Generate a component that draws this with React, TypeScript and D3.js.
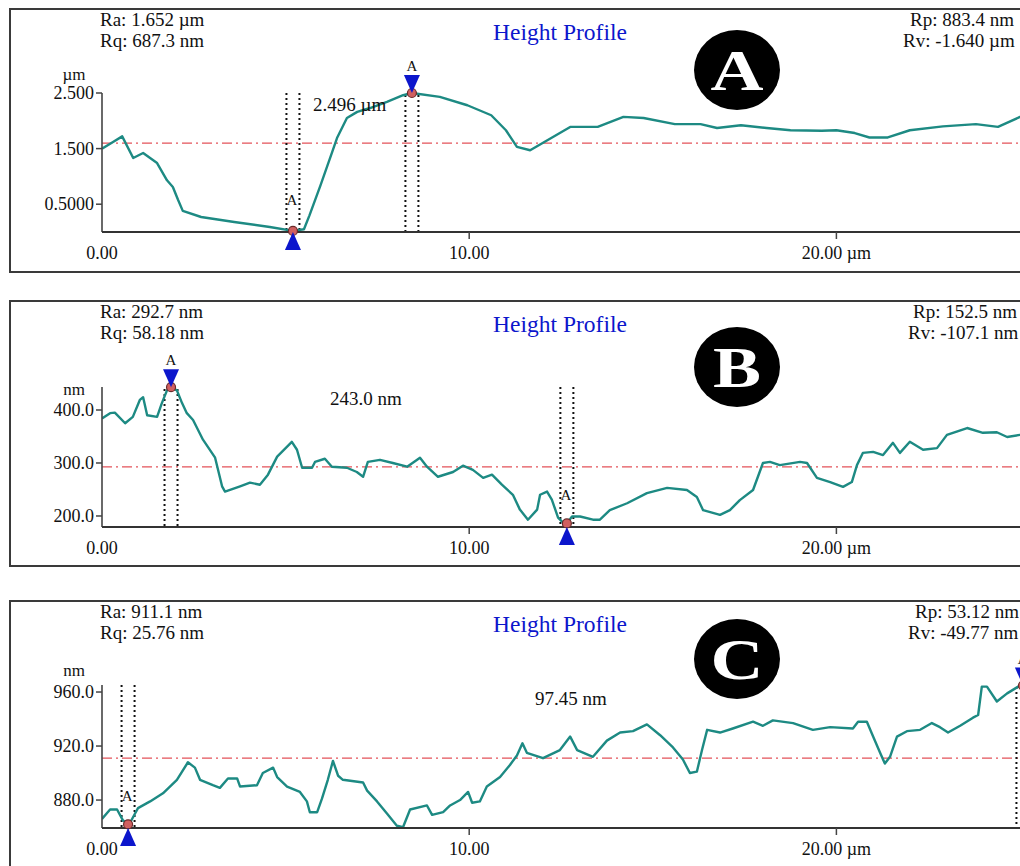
import React from "react";
import * as d3 from "d3";

// ---------- data ----------
const aX = [0, 0.3, 0.55, 0.85, 1.12, 1.5, 1.77, 1.93, 2.07, 2.2, 2.7, 3.6, 4.57, 5.2, 5.5, 5.65, 5.95, 6.27, 6.4, 6.67, 6.95, 7.3, 7.76, 8.2, 8.44, 9.2, 9.95, 10.6, 11.0, 11.3, 11.66, 12.0, 12.75, 13.5, 14.2, 14.75, 15.6, 16.3, 16.75, 17.4, 18.1, 18.75, 19.6, 20.0, 20.5, 20.9, 21.4, 22.0, 22.9, 23.8, 24.4, 25.0, 25.3];
const aY = [1.5, 1.62, 1.72, 1.33, 1.42, 1.24, 0.93, 0.81, 0.58, 0.38, 0.27, 0.18, 0.09, 0.02, 0.05, 0.3, 0.84, 1.44, 1.69, 2.05, 2.16, 2.23, 2.34, 2.46, 2.5, 2.43, 2.28, 2.1, 1.83, 1.53, 1.47, 1.6, 1.89, 1.89, 2.07, 2.05, 1.94, 1.94, 1.87, 1.92, 1.87, 1.83, 1.82, 1.83, 1.78, 1.7, 1.7, 1.83, 1.9, 1.94, 1.89, 2.07, 2.1];

const bX = [0, 0.22, 0.35, 0.63, 0.84, 1.03, 1.12, 1.23, 1.5, 1.63, 1.77, 1.88, 2.04, 2.18, 2.31, 2.48, 2.75, 3.08, 3.27, 3.35, 3.76, 4.03, 4.3, 4.52, 4.77, 5.17, 5.31, 5.45, 5.72, 5.8, 6.07, 6.26, 6.67, 6.94, 7.11, 7.24, 7.57, 7.92, 8.31, 8.66, 8.85, 9.15, 9.56, 9.83, 10.1, 10.38, 10.62, 10.89, 11.19, 11.38, 11.6, 11.85, 11.93, 12.12, 12.25, 12.42, 12.55, 12.66, 12.8, 13.02, 13.37, 13.56, 13.83, 14.3, 14.84, 15.39, 15.93, 16.2, 16.37, 16.83, 17.1, 17.37, 17.73, 18.0, 18.19, 18.46, 19.01, 19.2, 19.47, 19.83, 20.18, 20.42, 20.56, 20.72, 21.0, 21.27, 21.54, 21.73, 22.0, 22.36, 22.74, 23.01, 23.56, 23.99, 24.37, 24.65, 25.0, 25.3];
const bY = [384, 394, 395, 375, 387, 419, 424, 390, 387, 413, 437, 443, 437, 413, 394, 381, 344, 310, 256, 246, 256, 263, 259, 278, 312, 340, 325, 291, 291, 302, 308, 293, 291, 283, 274, 302, 306, 300, 293, 310, 293, 274, 283, 295, 287, 272, 278, 259, 240, 212, 193, 212, 240, 246, 231, 197, 188, 186, 199, 199, 193, 193, 211, 224, 243, 253, 249, 236, 211, 202, 211, 230, 249, 300, 302, 296, 302, 300, 272, 264, 255, 264, 296, 319, 321, 315, 338, 319, 340, 325, 328, 353, 366, 357, 358, 349, 353, 355];

const cX = [0, 0.22, 0.41, 0.57, 0.71, 0.76, 0.9, 0.98, 1.31, 1.66, 2.04, 2.34, 2.53, 2.67, 3.02, 3.21, 3.43, 3.68, 3.76, 4.22, 4.38, 4.66, 4.77, 5.04, 5.39, 5.58, 5.66, 5.86, 5.99, 6.15, 6.29, 6.43, 6.56, 7.11, 7.22, 7.49, 7.76, 8.03, 8.2, 8.39, 8.85, 8.99, 9.29, 9.48, 9.75, 9.97, 10.08, 10.29, 10.48, 10.84, 11.11, 11.3, 11.45, 11.57, 12.01, 12.47, 12.75, 12.94, 13.37, 13.75, 14.11, 14.46, 14.84, 15.2, 15.55, 15.82, 16.01, 16.2, 16.34, 16.48, 16.83, 17.18, 17.73, 18.0, 18.27, 18.82, 19.36, 19.83, 20.45, 20.59, 20.83, 21.0, 21.19, 21.32, 21.46, 21.65, 21.92, 22.28, 22.6, 22.82, 23.04, 23.37, 23.72, 23.86, 23.96, 24.1, 24.37, 24.65, 24.95, 25.3];
const cY = [866, 873, 873, 865, 862, 863, 870, 874, 879, 885, 895, 908, 904, 895, 891, 889, 896, 896, 890, 891, 900, 904, 897, 890, 886, 879, 871, 871, 881, 895, 909, 898, 895, 893, 887, 879, 870, 861, 860, 873, 876, 869, 871, 876, 880, 886, 878, 879, 890, 897, 906, 913, 922, 915, 911, 917, 927, 917, 912, 924, 930, 931, 936, 928, 919, 910, 900, 901, 917, 932, 930, 933, 938, 935, 939, 937, 932, 934, 933, 938, 938, 927, 915, 907, 912, 927, 931, 932, 937, 934, 930, 935, 941, 943, 964, 964, 953, 959, 964, 966];

const xTickValues = [0, 10, 20];
const xTickLabels = ["0.00", "10.00", "20.00 µm"];

const aYTicks = [0.5, 1.5, 2.5];
const aYTickLabels = ["0.5000", "1.500", "2.500"];
const bYTicks = [200, 300, 400];
const bYTickLabels = ["200.0", "300.0", "400.0"];
const cYTicks = [880, 920, 960];
const cYTickLabels = ["880.0", "920.0", "960.0"];

const aStats = ["Ra: 1.652 µm", "Rq: 687.3 nm", "Rp: 883.4 nm", "Rv: -1.640 µm"];
const bStats = ["Ra: 292.7 nm", "Rq: 58.18 nm", "Rp: 152.5 nm", "Rv: -107.1 nm"];
const cStats = ["Ra: 911.1 nm", "Rq: 25.76 nm", "Rp: 53.12 nm", "Rv: -49.77 nm"];

const aMean = 1.6;
const bMean = 292.7;
const cMean = 911.1;

// cursors: [lower (valley) x, upper (peak) x]
const aCursors = [5.2, 8.44];
const bCursors = [12.66, 1.88];
const cCursors = [0.71, 25.08];

const aMeasure = "2.496 µm";
const bMeasure = "243.0 nm";
const cMeasure = "97.45 nm";

// ---------- style ----------
const FONT = "'Liberation Serif', 'Times New Roman', serif";
const TEAL = "#1d8a83";
const BLUE = "#0c16cc";

type PanelProps = {
  letter: string;
  xs: number[];
  ys: number[];
  yTicks: number[];
  yTickLabels: string[];
  unit: string;
  stats: string[];
  mean: number;
  cursors: number[];
  measure: string;
  top: number;
  bottom: number;
  axisTop: number;
  axisBottom: number;
  yDomain: [number, number];
  unitY: number;
  measureX: number;
  measureY: number;
  badgeY: number;
  lowLabelY: number;
  rightX: [number, number];
};

function Panel(p: PanelProps) {
  const x = d3.scaleLinear().domain([0, 25]).range([102, 1020]);
  const y = d3.scaleLinear().domain(p.yDomain).range([p.axisBottom, p.axisTop]);
  const pts = p.xs.map((v, i) => [v, p.ys[i]] as [number, number]);
  const line = d3.line<[number, number]>().x((d) => x(d[0])).y((d) => y(d[1]));
  const interp = (xv: number) => {
    const i = d3.bisector((d: [number, number]) => d[0]).left(pts, xv);
    if (i <= 0) return pts[0][1];
    if (i >= pts.length) return pts[pts.length - 1][1];
    const [x0, y0] = pts[i - 1];
    const [x1, y1] = pts[i];
    return y0 + ((y1 - y0) * (xv - x0)) / (x1 - x0);
  };
  const clipId = "clip" + p.letter;
  const [lowX, highX] = p.cursors;
  const lowPx = x(lowX);
  const highPx = x(highX);
  const lowPy = Math.min(y(interp(lowX)), p.axisBottom);
  const highPy = Math.max(y(interp(highX)), p.axisTop);
  const half = 6.5;
  const dotted = { stroke: "#111", strokeWidth: 2, strokeDasharray: "2,3" };
  return (
    <g>
      <defs>
        <clipPath id={clipId}>
          <rect x={102} y={p.top} width={930} height={p.bottom - p.top} />
        </clipPath>
      </defs>
      <rect x={10} y={p.top} width={1040} height={p.bottom - p.top} fill="#fff" stroke="#3a3a3a" strokeWidth={2} />
      {/* stats */}
      <text x={100} y={p.top + 17} fontSize={19} fontFamily={FONT} fill="#111">{p.stats[0]}</text>
      <text x={100} y={p.top + 38} fontSize={19} fontFamily={FONT} fill="#111">{p.stats[1]}</text>
      <text x={p.rightX[0]} y={p.top + 17} fontSize={19} fontFamily={FONT} fill="#111">{p.stats[2]}</text>
      <text x={p.rightX[1]} y={p.top + 38} fontSize={19} fontFamily={FONT} fill="#111">{p.stats[3]}</text>
      <text x={560} y={p.top + 31} fontSize={23.5} fontFamily={FONT} fill={BLUE} textAnchor="middle">Height Profile</text>
      {/* badge */}
      <ellipse cx={737} cy={p.badgeY} rx={43} ry={40} fill="#000" />
      <text x={737} y={p.badgeY + 20} fontSize={58} fontWeight="bold" fontFamily={FONT} fill="#fff" textAnchor="middle"
        textLength={p.letter === "B" ? 48 : 53} lengthAdjust="spacingAndGlyphs">{p.letter}</text>
      {/* mean line */}
      <line x1={102} x2={1030} y1={y(p.mean)} y2={y(p.mean)} stroke="#e4535a" strokeWidth={1.3} strokeDasharray="10,4,2,4" />
      {/* cursors */}
      <g>
        <line x1={lowPx - half} x2={lowPx - half} y1={p.axisTop} y2={p.axisBottom} {...dotted} />
        <line x1={lowPx + half} x2={lowPx + half} y1={p.axisTop} y2={p.axisBottom} {...dotted} />
        <line x1={highPx - half} x2={highPx - half} y1={p.axisTop + 2} y2={p.axisBottom} {...dotted} />
        <line x1={highPx + half} x2={highPx + half} y1={p.axisTop + 2} y2={p.axisBottom} {...dotted} />
      </g>
      {/* profile */}
      <path d={line(pts) || ""} fill="none" stroke={TEAL} strokeWidth={2.4} clipPath={`url(#${clipId})`} strokeLinejoin="round" />
      {/* axes */}
      <line x1={102} x2={102} y1={p.axisTop} y2={p.axisBottom} stroke="#444" strokeWidth={1.6} />
      <line x1={102} x2={1040} y1={p.axisBottom} y2={p.axisBottom} stroke="#333" strokeWidth={2} />
      {p.yTicks.map((t, i) => (
        <g key={t}>
          <line x1={96} x2={102} y1={y(t)} y2={y(t)} stroke="#444" strokeWidth={1.5} />
          <text x={94} y={y(t) + 6} fontSize={18} fontFamily={FONT} fill="#111" textAnchor="end">{p.yTickLabels[i]}</text>
        </g>
      ))}
      <text x={74} y={p.unitY} fontSize={17} fontFamily={FONT} fill="#111" textAnchor="middle">{p.unit}</text>
      {xTickValues.map((t, i) => (
        <g key={t}>
          {t > 0 && <line x1={x(t)} x2={x(t)} y1={p.axisBottom} y2={p.axisBottom + 7} stroke="#444" strokeWidth={1.5} />}
          <text x={x(t)} y={p.axisBottom + 27} fontSize={18} fontFamily={FONT} fill="#111" textAnchor="middle">{xTickLabels[i]}</text>
        </g>
      ))}
      {/* markers */}
      <circle cx={lowPx} cy={lowPy} r={4.5} fill="#d06060" stroke="#6a2a2a" strokeWidth={1.2} />
      <circle cx={highPx} cy={highPy} r={4.5} fill="#d06060" stroke="#6a2a2a" strokeWidth={1.2} />
      <path d={`M${lowPx},${p.axisBottom} L${lowPx - 8},${p.axisBottom + 18} L${lowPx + 8},${p.axisBottom + 18} Z`} fill={BLUE} />
      <path d={`M${highPx},${highPy} L${highPx - 8},${highPy - 18} L${highPx + 8},${highPy - 18} Z`} fill={BLUE} />
      <text x={lowPx - 1} y={p.lowLabelY} fontSize={15} fontFamily={FONT} fill="#111" textAnchor="middle">A</text>
      <text x={highPx} y={highPy - 22} fontSize={15} fontFamily={FONT} fill="#111" textAnchor="middle">A</text>
      <text x={p.measureX} y={p.measureY} fontSize={19} fontFamily={FONT} fill="#111">{p.measure}</text>
    </g>
  );
}

export default function App() {
  return (
    <svg width={1020} height={866} style={{ position: "absolute", left: 0, top: 0, background: "#fff" }}>
      <rect x={0} y={0} width={1020} height={866} fill="#fff" />
      <Panel letter="A" xs={aX} ys={aY} yTicks={aYTicks} yTickLabels={aYTickLabels} unit="µm" stats={aStats}
        mean={aMean} cursors={aCursors} measure={aMeasure} top={9} bottom={272} axisTop={93} axisBottom={232}
        yDomain={[0, 2.5]} unitY={80} measureX={313} measureY={111} badgeY={70} lowLabelY={205} rightX={[910, 903]} />
      <Panel letter="B" xs={bX} ys={bY} yTicks={bYTicks} yTickLabels={bYTickLabels} unit="nm" stats={bStats}
        mean={bMean} cursors={bCursors} measure={bMeasure} top={301} bottom={566} axisTop={387} axisBottom={527}
        yDomain={[179.2, 443.4]} unitY={395} measureX={330} measureY={405} badgeY={367} lowLabelY={500} rightX={[913, 908]} />
      <Panel letter="C" xs={cX} ys={cY} yTicks={cYTicks} yTickLabels={cYTickLabels} unit="nm" stats={cStats}
        mean={cMean} cursors={cCursors} measure={cMeasure} top={601} bottom={880} axisTop={685} axisBottom={828}
        yDomain={[859.3, 965.2]} unitY={676} measureX={535} measureY={705} badgeY={659} lowLabelY={801} rightX={[915, 908]} />
    </svg>
  );
}
